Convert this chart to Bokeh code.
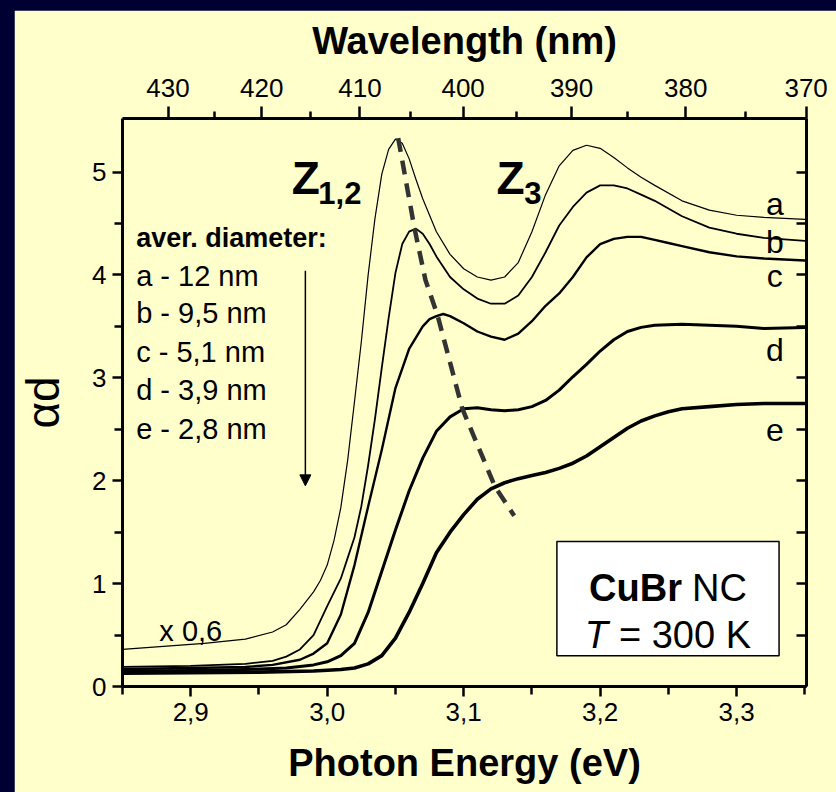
import numpy as np
from bokeh.plotting import figure
from bokeh.layouts import column
from bokeh.models import (Range1d, LinearAxis, FixedTicker, CustomJSTickFormatter, Label,
                          Arrow, NormalHead, BoxAnnotation)
from bokeh.embed import file_html
from bokeh.resources import INLINE

# ---------------- data ----------------
energy_a = [2.85, 2.88, 2.91, 2.94, 2.96, 2.97, 2.98, 2.99, 2.995, 3.00, 3.005, 3.01, 3.015, 3.02,
            3.025, 3.03, 3.035, 3.04, 3.045, 3.05, 3.055, 3.06, 3.065, 3.07, 3.08, 3.09, 3.10, 3.11,
            3.12, 3.13, 3.14, 3.15, 3.16, 3.17, 3.18, 3.19, 3.20, 3.21, 3.22, 3.23, 3.24, 3.26, 3.28,
            3.30, 3.32, 3.35]
alpha_a = [0.36, 0.39, 0.42, 0.46, 0.53, 0.60, 0.75, 0.92, 1.03, 1.18, 1.42, 1.74, 2.20, 2.77,
           3.35, 4.00, 4.55, 4.98, 5.22, 5.32, 5.28, 5.13, 4.93, 4.74, 4.42, 4.20, 4.06, 3.98,
           3.95, 3.98, 4.12, 4.42, 4.78, 5.06, 5.21, 5.26, 5.23, 5.14, 5.04, 4.95, 4.87, 4.72, 4.63,
           4.58, 4.56, 4.54]

energy_b = [2.85, 2.90, 2.94, 2.96, 2.97, 2.98, 2.99, 3.00, 3.01, 3.015, 3.02, 3.025, 3.03, 3.035,
            3.04, 3.045, 3.05, 3.055, 3.06, 3.065, 3.07, 3.075, 3.08, 3.09, 3.10, 3.11, 3.12, 3.13,
            3.14, 3.15, 3.16, 3.17, 3.18, 3.19, 3.20, 3.21, 3.22, 3.23, 3.24, 3.26, 3.28, 3.30, 3.32,
            3.35]
alpha_b = [0.19, 0.20, 0.22, 0.25, 0.29, 0.36, 0.50, 0.78, 1.05, 1.25, 1.45, 1.75, 2.15, 2.60,
           3.10, 3.58, 4.02, 4.30, 4.42, 4.45, 4.40, 4.30, 4.18, 3.98, 3.86, 3.77, 3.72, 3.72,
           3.80, 3.98, 4.22, 4.48, 4.66, 4.80, 4.87, 4.87, 4.84, 4.78, 4.72, 4.57, 4.46, 4.40, 4.36,
           4.33]

energy_c = [2.85, 2.90, 2.94, 2.96, 2.98, 2.99, 3.00, 3.01, 3.02, 3.03, 3.04, 3.05, 3.06, 3.07,
            3.075, 3.08, 3.085, 3.09, 3.10, 3.11, 3.12, 3.13, 3.14, 3.15, 3.16, 3.17, 3.18, 3.19,
            3.20, 3.21, 3.22, 3.23, 3.24, 3.25, 3.26, 3.28, 3.30, 3.32, 3.35]
alpha_c = [0.17, 0.18, 0.19, 0.21, 0.26, 0.32, 0.42, 0.70, 1.18, 1.75, 2.30, 2.90, 3.28, 3.50,
           3.57, 3.60, 3.62, 3.60, 3.53, 3.45, 3.40, 3.37, 3.43, 3.55, 3.70, 3.82, 3.98, 4.17,
           4.30, 4.35, 4.37, 4.37, 4.34, 4.31, 4.28, 4.22, 4.18, 4.16, 4.14]

energy_d = [2.85, 2.90, 2.94, 2.97, 2.99, 3.00, 3.01, 3.02, 3.03, 3.04, 3.05, 3.06, 3.07, 3.08,
            3.09, 3.10, 3.11, 3.12, 3.13, 3.14, 3.15, 3.16, 3.17, 3.18, 3.19, 3.20, 3.21, 3.22,
            3.23, 3.24, 3.26, 3.28, 3.30, 3.32, 3.35]
alpha_d = [0.15, 0.155, 0.165, 0.18, 0.21, 0.24, 0.30, 0.42, 0.72, 1.12, 1.52, 1.90, 2.22, 2.48,
           2.62, 2.70, 2.71, 2.69, 2.68, 2.69, 2.72, 2.78, 2.88, 3.01, 3.13, 3.26, 3.37, 3.45,
           3.49, 3.51, 3.52, 3.51, 3.50, 3.48, 3.49]

energy_e = [2.85, 2.90, 2.95, 2.99, 3.01, 3.02, 3.03, 3.04, 3.05, 3.06, 3.07, 3.08, 3.09, 3.10,
            3.11, 3.12, 3.13, 3.14, 3.15, 3.16, 3.17, 3.18, 3.19, 3.20, 3.21, 3.22, 3.23, 3.24,
            3.25, 3.26, 3.28, 3.30, 3.32, 3.35]
alpha_e = [0.13, 0.135, 0.14, 0.15, 0.165, 0.18, 0.22, 0.30, 0.47, 0.72, 1.00, 1.30, 1.50, 1.67,
           1.82, 1.92, 1.98, 2.02, 2.05, 2.08, 2.12, 2.17, 2.24, 2.33, 2.42, 2.51, 2.58, 2.63,
           2.67, 2.70, 2.72, 2.74, 2.75, 2.75]

z12_energy = [3.052, 3.064, 3.072, 3.081, 3.099, 3.123, 3.137]
z12_alpha = [5.33, 4.45, 3.95, 3.60, 2.70, 1.94, 1.66]

energy_ticks = [2.9, 3.0, 3.1, 3.2, 3.3]
energy_minor = [2.85, 2.95, 3.05, 3.15, 3.25, 3.35]
alpha_ticks = [0, 1, 2, 3, 4, 5]
alpha_minor = [0.5, 1.5, 2.5, 3.5, 4.5]
wavelength_major = [430, 420, 410, 400, 390, 380, 370]
wavelength_minor = [425, 415, 405, 395, 385, 375]
HC = 1239.84  # eV*nm

curve_names = ["a", "b", "c", "d", "e"]
diameter_lines = ["a - 12 nm", "b - 9,5 nm", "c - 5,1 nm", "d - 3,9 nm", "e - 2,8 nm"]

# ---------------- styling ----------------
BG = "#ffffcc"
NAVY = "#000033"
SANS = "Liberation Sans"

p = figure(width=822, height=782, output_backend="svg", toolbar_location=None,
           x_range=Range1d(2.85, 3.3512), y_range=Range1d(0, 5.52),
           min_border_left=104, min_border_right=30, min_border_top=108, min_border_bottom=106)
p.margin = (10, 0, 0, 14)
p.background_fill_color = BG
p.border_fill_color = BG
p.outline_line_color = None
p.grid.visible = False

def style_axis(ax, inward=False):
    ax.axis_line_width = 3
    ax.axis_line_color = "black"
    ax.major_tick_line_width = 2.5
    ax.minor_tick_line_width = 2.5
    ax.major_tick_line_color = "black"
    ax.minor_tick_line_color = "black"
    if inward:
        ax.major_tick_in = 10
        ax.major_tick_out = 0
        ax.minor_tick_in = 10
        ax.minor_tick_out = 0
    else:
        ax.major_tick_in = 0
        ax.major_tick_out = 10
        ax.minor_tick_in = 0
        ax.minor_tick_out = 8
    ax.major_label_text_color = "black"
    ax.axis_label_text_color = "black"

# bottom axis
xb = p.xaxis[0]
style_axis(xb)
xb.ticker = FixedTicker(ticks=energy_ticks, minor_ticks=energy_minor)
xb.formatter = CustomJSTickFormatter(code="return tick.toFixed(1).replace('.', ',');")
xb.major_label_text_font = SANS
xb.major_label_text_font_size = "26px"
xb.major_label_standoff = 6
xb.axis_label = "Photon Energy (eV)"
xb.axis_label_text_font = SANS
xb.axis_label_text_font_style = "bold"
xb.axis_label_text_font_size = "38px"
xb.axis_label_standoff = 18

# left axis
yl = p.yaxis[0]
style_axis(yl)
yl.ticker = FixedTicker(ticks=alpha_ticks, minor_ticks=alpha_minor)
yl.major_label_text_font = SANS
yl.major_label_text_font_size = "26px"
yl.major_label_standoff = 6
yl.axis_label = "αd"
yl.axis_label_text_font = SANS
yl.axis_label_text_font_style = "normal"
yl.axis_label_text_font_size = "46px"
yl.axis_label_standoff = 20

# top axis (wavelength)
xt = LinearAxis(ticker=FixedTicker(ticks=[HC / w for w in wavelength_major],
                                   minor_ticks=[HC / w for w in wavelength_minor]),
                formatter=CustomJSTickFormatter(code="return Math.round(%f / tick).toString();" % HC))
style_axis(xt)
xt.minor_tick_out = 7
xt.major_tick_out = 12
xt.major_label_text_font = SANS
xt.major_label_text_font_size = "26px"
xt.major_label_standoff = 10
xt.axis_label = "Wavelength (nm)"
xt.axis_label_text_font = SANS
xt.axis_label_text_font_style = "bold"
xt.axis_label_text_font_size = "38px"
xt.axis_label_standoff = 14
p.add_layout(xt, "above")

# right axis (ticks only)
yr = LinearAxis(ticker=FixedTicker(ticks=alpha_ticks, minor_ticks=alpha_minor),
                formatter=CustomJSTickFormatter(code="return '';"))
style_axis(yr, inward=True)
p.add_layout(yr, "right")

# curves
widths = [1.2, 1.8, 2.4, 3.0, 3.6]
for xs, ys, w in zip([energy_a, energy_b, energy_c, energy_d, energy_e],
                     [alpha_a, alpha_b, alpha_c, alpha_d, alpha_e], widths):
    p.line(xs, ys, line_color="black", line_width=w, line_join="round", line_cap="round")

p.line(z12_energy, z12_alpha, line_color="#333333", line_width=4.5, line_dash="14 9")

# text annotations
def lab(x, y, t, size, style="normal", align="left", baseline="middle", xo=0, yo=0):
    p.add_layout(Label(x=x, y=y, text=t, text_font=SANS, text_font_size=size,
                       text_font_style=style, text_align=align, text_baseline=baseline,
                       x_offset=xo, y_offset=yo, text_color="black"))

# Z labels
lab(2.9740, 4.94, "Z", "46px", "bold", baseline="alphabetic")
lab(2.9935, 4.80, "1,2", "31px", "bold", baseline="alphabetic")
lab(3.124, 4.94, "Z", "46px", "bold", baseline="alphabetic")
lab(3.1443, 4.80, "3", "31px", "bold", baseline="alphabetic")

# legend of diameters
lab(2.860, 4.354, "aver. diameter:", "27px", "bold")
leg_y = [3.994, 3.625, 3.246, 2.877, 2.507]
for t, yy in zip(diameter_lines, leg_y):
    lab(2.860, yy, t, "29px")
p.add_layout(Arrow(end=NormalHead(size=11, fill_color="black", line_color="black"),
                   x_start=2.984, y_start=4.04, x_end=2.984, y_end=1.95,
                   line_width=1.5, line_color="black"))

# curve letters on the right
letter_y = [4.69, 4.32, 3.99, 3.27, 2.49]
for t, yy in zip(curve_names, letter_y):
    lab(3.328, yy, t, "32px", align="center")

lab(2.877, 0.54, "x 0,6", "29px")

# box
p.add_layout(BoxAnnotation(left=3.1683, right=3.3311, top=1.41, bottom=0.30,
                           fill_color="white", fill_alpha=1.0, line_color="black",
                           line_alpha=1.0, line_width=1.5, level="annotation"))
cx = 3.2497
lab(cx, 0.955, "CuBr", "38px", "bold", align="right", baseline="alphabetic", xo=14)
lab(cx, 0.955, "NC", "38px", align="left", baseline="alphabetic", xo=24)
lab(cx, 0.50, "T", "38px", "italic", align="right", baseline="alphabetic", xo=-60)
lab(cx, 0.50, "= 300 K", "38px", align="left", baseline="alphabetic", xo=-49)

page = column(p, styles={"background-color": NAVY})

open("out.html", "w").write(file_html(page, INLINE))
